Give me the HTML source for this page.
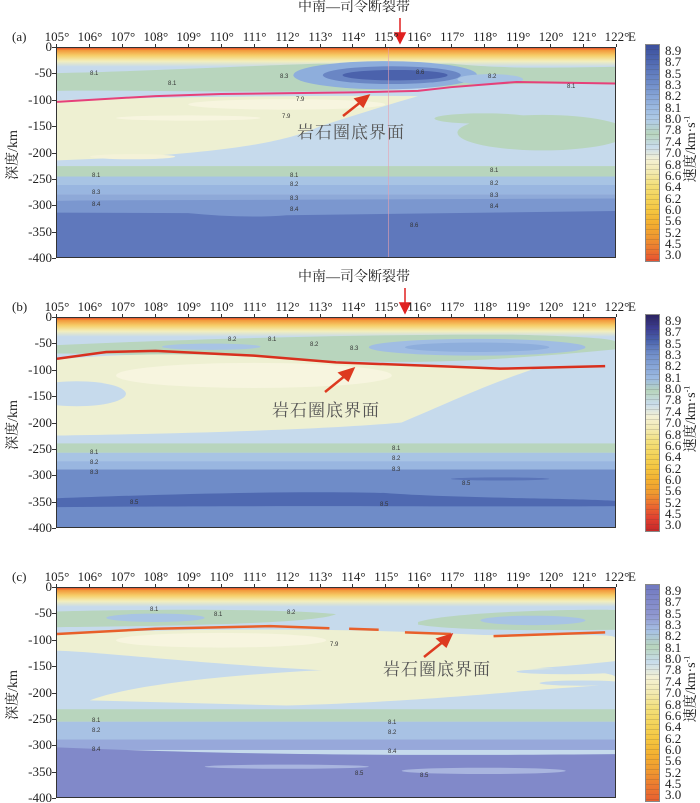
<!DOCTYPE html>
<html><head><meta charset="utf-8">
<style>
body{margin:0;background:#fff;}
#root{position:relative;width:700px;height:803px;overflow:hidden;font-family:"Liberation Serif","Noto Serif CJK SC",serif;color:#222;}
.t{position:absolute;white-space:nowrap;font-size:13px;line-height:13px;}
.plot{position:absolute;left:56px;width:560px;height:211px;border:1px solid #333;box-sizing:border-box;overflow:hidden;}
.plot svg{position:absolute;left:0;top:0;width:100%;height:100%;}
.cb{position:absolute;left:645px;width:15px;height:218px;border:1px solid #888;box-sizing:border-box;}
.rot{position:absolute;transform:rotate(-90deg);transform-origin:center;white-space:nowrap;font-family:"Liberation Serif","Noto Serif CJK SC",serif;}
.lith{position:absolute;font-size:17px;color:#555;font-family:"Liberation Serif","Noto Serif CJK SC",serif;letter-spacing:1px;}
.cl{position:absolute;font-family:"Liberation Sans",sans-serif;font-size:6px;color:#333;}
</style></head><body><div id="root">

<!-- Panel A -->
<div class="plot" style="top:47px">
<svg viewBox="105 0 17 400" preserveAspectRatio="none">
<defs>
<linearGradient id="top" x1="0" y1="0" x2="0" y2="1">
<stop offset="0" stop-color="#e8502c"/><stop offset="0.12" stop-color="#f29a3c"/><stop offset="0.4" stop-color="#f6cf6a"/><stop offset="0.7" stop-color="#f3eebc"/><stop offset="1" stop-color="#f3eebc" stop-opacity="0"/>
</linearGradient>
</defs>
<rect x="105" y="0" width="17" height="400" fill="#c6daec"/>
<rect x="105" y="0" width="17" height="36" fill="url(#top)"/>
<path d="M105,48 C108,44 110,36 113,30 L117,30 C118,36 119,40 122,36 L122,70 C119,64 117,74 115,80 C112,88 108,80 105,82 Z" fill="#b8d5bd"/>
<ellipse cx="115" cy="52" rx="2.8" ry="27" fill="#8eaedc"/>
<ellipse cx="118.2" cy="60" rx="1" ry="10" fill="#a8c4e4"/>
<ellipse cx="115.2" cy="52" rx="2.1" ry="17" fill="#6a86c4"/>
<ellipse cx="115.3" cy="52" rx="1.6" ry="10" fill="#4b62ac"/>
<path d="M105,100 C108,95 112,90 116,92 C115,110 114,130 113,150 C112,180 110,205 105,215 Z" fill="#eef0d2"/>
<ellipse cx="112" cy="108" rx="3" ry="10" fill="#f7f5df"/>
<ellipse cx="109" cy="134" rx="2.2" ry="5" fill="#f7f5df"/>
<ellipse cx="107.3" cy="208" rx="1.3" ry="5" fill="#f4f2d8"/>
<ellipse cx="119.8" cy="162" rx="2.6" ry="34" fill="#b8d5bd"/>
<ellipse cx="118" cy="135" rx="1.5" ry="10" fill="#b8d5bd"/>
<rect x="105" y="226" width="17" height="20" fill="#b8d5bd"/>
<rect x="105" y="246" width="17" height="16" fill="#a8c4e4"/>
<rect x="105" y="262" width="17" height="18" fill="#99b6e0"/>
<rect x="105" y="280" width="17" height="12" fill="#8ea9d8"/>
<path d="M105,292 L122,288 L122,400 L105,400 Z" fill="#7b97cf"/>
<path d="M105,315 L109,316 C110,322 111,325 112,320 L122,312 L122,400 L105,400 Z" fill="#5f78bc"/>
<polyline points="105,103 108,92 110,88 114,85 116,82 117,75 119,65 122,68" fill="none" stroke="#e6407a" stroke-width="2" vector-effect="non-scaling-stroke"/>
<line x1="115.1" y1="0" x2="115.1" y2="400" stroke="#e8a0b0" stroke-width="1" vector-effect="non-scaling-stroke" opacity="0.6"/>
</svg>
</div>

<!-- Panel B -->
<div class="plot" style="top:317px">
<svg viewBox="105 0 17 400" preserveAspectRatio="none">
<rect x="105" y="0" width="17" height="400" fill="#c6daec"/>
<rect x="105" y="0" width="17" height="36" fill="url(#top)"/>
<path d="M105,52 C109,40 115,30 119,32 C121,35 122,40 122,45 L122,60 C120,72 118,82 116,84 C112,84 109,70 105,68 Z" fill="#b8d5bd"/>
<ellipse cx="117.8" cy="56" rx="3.3" ry="16" fill="#a0bde3"/>
<ellipse cx="117.8" cy="56" rx="2.2" ry="9" fill="#8eaedc"/>
<ellipse cx="109.7" cy="55" rx="1.5" ry="6" fill="#a8c4e4"/>
<path d="M105,80 C107,66 110,65 113.5,85 C115,92 118,96 119.5,98 C118,130 117,160 115.5,200 C113,215 108,222 105,225 Z" fill="#eef0d2"/>
<ellipse cx="111" cy="110" rx="4.2" ry="24" fill="#f7f5df"/>
<ellipse cx="105.6" cy="145" rx="1.5" ry="24" fill="#c6daec"/>
<rect x="105" y="240" width="17" height="18" fill="#b8d5bd"/>
<rect x="105" y="258" width="17" height="16" fill="#a8c4e4"/>
<rect x="105" y="274" width="17" height="16" fill="#99b6e0"/>
<rect x="105" y="290" width="17" height="110" fill="#6f8cc8"/>
<path d="M105,345 C108,338 112,330 115,335 C117,345 121,345 122,350 L122,360 C118,362 112,358 105,362 Z" fill="#4f69b1"/>
<ellipse cx="118.5" cy="308" rx="1.5" ry="3" fill="#5a74b8"/>
<polyline points="105,78 106.5,65 108,63 111,72 113.5,85 117,93 118.5,97 121.7,92" fill="none" stroke="#d8301e" stroke-width="2.5" vector-effect="non-scaling-stroke"/>
</svg>
</div>

<!-- Panel C -->
<div class="plot" style="top:587px">
<svg viewBox="105 0 17 400" preserveAspectRatio="none">
<rect x="105" y="0" width="17" height="400" fill="#c6daec"/>
<rect x="105" y="0" width="17" height="36" fill="url(#top)"/>
<path d="M105,45 C108,40 112,40 113.5,50 C113,65 110,72 105,75 Z" fill="#b8d5bd"/>
<ellipse cx="108" cy="57" rx="1.5" ry="8" fill="#a8c4e4"/>
<path d="M116,65 C117,45 121,40 122,42 L122,80 C119,82 117,80 116,70 Z" fill="#b8d5bd"/>
<ellipse cx="119.5" cy="62" rx="1.6" ry="9" fill="#a8c4e4"/>
<path d="M105,88 C110,75 114,78 118,90 C120,92 122,86 122,95 L122,140 C119,160 118,160 114,160 C110,150 106,120 105,120 Z" fill="#eef0d2"/>
<ellipse cx="110" cy="100" rx="3.2" ry="14" fill="#f7f5df"/>
<path d="M106,215 C107,190 110,160 116,150 C120,150 122,160 122,170 L122,185 C119,195 117,215 112,225 Z" fill="#eef0d2"/>
<ellipse cx="120.5" cy="160" rx="1.5" ry="5" fill="#c6daec"/>
<ellipse cx="121" cy="182" rx="1.3" ry="5" fill="#c6daec"/>
<rect x="105" y="232" width="17" height="24" fill="#b8d5bd"/>
<rect x="105" y="256" width="17" height="34" fill="#a8c2e4"/>
<rect x="105" y="290" width="17" height="20" fill="#97a8da"/>
<path d="M105,305 C110,318 115,322 122,318 L122,400 L105,400 Z" fill="#8189c9"/>
<ellipse cx="112" cy="342" rx="2.5" ry="4" fill="#a9b5df"/>
<ellipse cx="118" cy="350" rx="2.5" ry="6" fill="#a9b5df"/>
<g fill="none" stroke="#e8602a" stroke-width="2.5" vector-effect="non-scaling-stroke">
<polyline points="105,88 108,78 111.5,73 113.3,77" vector-effect="non-scaling-stroke"/>
<polyline points="113.9,78 114.8,80" vector-effect="non-scaling-stroke"/>
<polyline points="115.6,85 117,88" vector-effect="non-scaling-stroke"/>
<polyline points="118.3,92 121.7,85" vector-effect="non-scaling-stroke"/>
</g>
</svg>
</div>

<!-- annotations -->
<div class="t" style="left:298px;top:1px;font-size:14px;">中南—司令断裂带</div>
<div class="t" style="left:298px;top:271px;font-size:14px;">中南—司令断裂带</div>
<svg style="position:absolute;left:0;top:0" width="700" height="803">
<g stroke="#e02020" stroke-width="1.5" fill="#e02020">
<line x1="400" y1="18" x2="400" y2="34"/><polygon points="395,33 405,33 400,43"/>
<line x1="405" y1="288" x2="405" y2="304"/><polygon points="400,303 410,303 405,313"/>
</g>
<g stroke="#dd3a20" stroke-width="2.5" fill="#dd3a20">
<line x1="343" y1="116" x2="362" y2="101"/><polygon points="368,96 356,99 363,106"/>
<line x1="325" y1="392" x2="346" y2="375"/><polygon points="353,369 340,373 348,380"/>
<line x1="424" y1="657" x2="444" y2="641"/><polygon points="451,635 438,639 446,646"/>
</g>
</svg>
<div class="lith" style="left:297px;top:118px;">岩石圈底界面</div>
<div class="lith" style="left:272px;top:396px;">岩石圈底界面</div>
<div class="lith" style="left:383px;top:655px;">岩石圈底界面</div>

<div id="dyn"></div>
</div>
<script>
const root=document.getElementById('dyn');
function add(html){root.insertAdjacentHTML('beforeend',html);}
const tops=[47,317,587], labs=['(a)','(b)','(c)'];
const cbA=['#3c4f9c','#4a62ac','#5d78bc','#6f8cc8','#86a4d6','#9dbbe2','#b2cde6','#b8d5bd','#c8dcec','#f4f1d4','#f3eab0','#f3df7a','#f4d45a','#f5c640','#f4b030','#f09a30','#ec7a30','#e85030'];
const cbB=['#2b2360','#3c3c90','#4a62ac','#6f8cc8','#86a4d6','#9dbbe2','#b8d5bd','#c8dcec','#f4f1d4','#f3eab0','#f3df7a','#f4d45a','#f5c640','#f4b030','#f09a30','#ec6a30','#e04030','#c82828'];
const cbC=['#7078c0','#8189c9','#9098d0','#a8c2e4','#b8d5bd','#c8dcec','#f4f1d4','#f3eab0','#f3df7a','#f4d45a','#f5c640','#f4b030','#f09a30','#ec7a30','#e86030'];
const cbs=[cbA,cbB,cbC];
const vals=['8.9','8.7','8.5','8.3','8.2','8.1','8.0','7.8','7.4','7.0','6.8','6.6','6.4','6.2','6.0','5.6','5.2','4.5','3.0'];
tops.forEach((T,i)=>{
  add(`<div class="t" style="left:12px;top:${T-17}px;font-size:13px">${labs[i]}</div>`);
  for(let d=0;d<=400;d+=50){
    const y=T+d*211/400;
    add(`<div class="t" style="right:${700-52}px;top:${y-7}px;text-align:right">${d==0?'0':'-'+d}</div>`);
    add(`<div style="position:absolute;left:52px;top:${y}px;width:4px;height:1px;background:#333"></div>`);
  }
  for(let l=105;l<=122;l++){
    const x=56+(l-105)*560/17;
    add(`<div class="t" style="left:${x-14}px;top:${T-17}px;width:30px;text-align:center">${l}°</div>`);
    add(`<div style="position:absolute;left:${x}px;top:${T-3}px;width:1px;height:3px;background:#333"></div>`);
  }
  add(`<div class="t" style="left:628px;top:${T-17}px">E</div>`);
  add(`<div class="rot" style="left:-18px;top:${T+98}px;font-size:14px;width:60px;text-align:center">深度/km</div>`);
  const cb=cbs[i];
  let stops=cb.map((c,k)=>`${c} ${k*100/(cb.length-1)}%`).join(',');
  add(`<div class="cb" style="top:${T-3}px;background:repeating-linear-gradient(to bottom,transparent 0,transparent 4.4px,rgba(60,60,60,0.35) 4.4px,rgba(60,60,60,0.35) 5px),linear-gradient(to bottom,${stops})"></div>`);
  vals.forEach((v,k)=>{
    const y=T+3+k*210/18.5;
    add(`<div class="t" style="left:665px;top:${y-6}px;font-size:13px">${v}</div>`);
  });
  add(`<div class="rot" style="left:650px;top:${T+92}px;font-size:14px;width:80px;text-align:center">速度/km·s<sup style="font-size:8px">-1</sup></div>`);
});
const cl=[[0,90,27,'8.1'],[0,168,37,'8.1'],[0,280,30,'8.3'],[0,416,26,'8.6'],[0,488,30,'8.2'],[0,567,40,'8.1'],[0,296,53,'7.9'],[0,282,70,'7.9'],[0,92,169,'8.1'],[0,92,186,'8.3'],[0,92,198,'8.4'],[0,290,169,'8.1'],[0,290,178,'8.2'],[0,290,192,'8.3'],[0,290,203,'8.4'],[0,490,164,'8.1'],[0,490,177,'8.2'],[0,490,189,'8.3'],[0,490,200,'8.4'],[0,410,219,'8.6'],
[1,228,23,'8.2'],[1,268,23,'8.1'],[1,310,28,'8.2'],[1,350,32,'8.3'],[1,90,176,'8.1'],[1,90,186,'8.2'],[1,90,196,'8.3'],[1,392,172,'8.1'],[1,392,182,'8.2'],[1,392,193,'8.3'],[1,462,207,'8.5'],[1,130,226,'8.5'],[1,380,228,'8.5'],
[2,150,23,'8.1'],[2,214,28,'8.1'],[2,287,26,'8.2'],[2,330,58,'7.9'],[2,92,174,'8.1'],[2,92,184,'8.2'],[2,92,203,'8.4'],[2,388,176,'8.1'],[2,388,186,'8.2'],[2,388,205,'8.4'],[2,355,227,'8.5'],[2,420,229,'8.5']];
cl.forEach(([p,x,y,t])=>add(`<div class="cl" style="left:${x}px;top:${tops[p]+(y>100?y-40:y)-3}px">${t}</div>`));
</script>
</body></html>
